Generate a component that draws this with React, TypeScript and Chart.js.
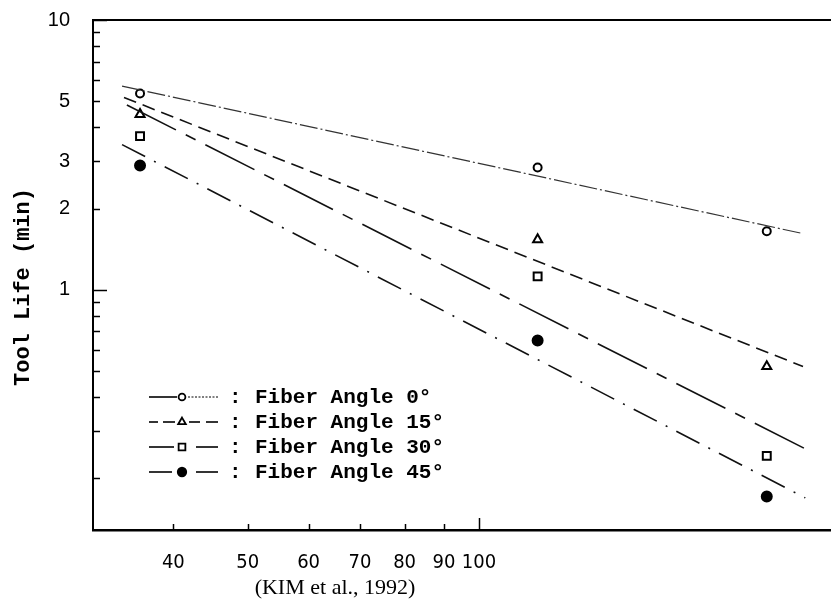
import React, { useEffect, useRef } from "react";
import { Chart, registerables } from "chart.js";
import { drawPoint } from "chart.js/helpers";

Chart.register(...registerables);

// ---- data ----
const SERIES_LABELS = ["Fiber Angle 0°", "Fiber Angle 15°", "Fiber Angle 30°", "Fiber Angle 45°"];
const CUTTING_SPEEDS = [36.2, 119.2, 236.9];
const LIFE_0 = [5.34, 2.84, 1.646];
const LIFE_15 = [4.47, 1.534, 0.519];
const LIFE_30 = [3.71, 1.12, 0.242];
const LIFE_45 = [2.89, 0.648, 0.171];

const FIT_START_SPEED = [34.3, 34.5, 34.8, 34.3];
const FIT_END_SPEED = [264.1, 264.1, 265.9, 265.9];
const FIT_0 = [5.69, 1.614];
const FIT_15 = [5.16, 0.519];
const FIT_30 = [4.84, 0.257];
const FIT_45 = [3.45, 0.169];

const X_TICKS = [40, 50, 60, 70, 80, 90, 100];
const Y_TICKS = [1, 2, 3, 5, 10];
const Y_MINOR_TICKS = [0.2, 0.3, 0.4, 0.5, 0.6, 0.7, 0.8, 0.9, 2, 3, 4, 5, 6, 7, 8, 9];
const Y_MAJOR_TICKS = [1, 10];
const X_RANGE = [31.44, 287.2];
const Y_RANGE = [0.1285, 10];

const Y_TITLE = "Tool Life (min)";
const CAPTION = "(KIM et al., 1992)";

const LIFE = [LIFE_0, LIFE_15, LIFE_30, LIFE_45];
const FITS = [FIT_0, FIT_15, FIT_30, FIT_45];

const DASHES = [[18, 3, 2, 3], [13, 7], [55, 11, 11, 11], [26, 10, 2, 10]];
const LINE_WIDTHS = [1.2, 1.6, 1.6, 1.6];
const LINE_COLORS = ["#333", "#111", "#111", "#111"];
const POINT_STYLES = ["circle", "triangle", "rect", "circle"];
const POINT_RADII = [4, 5.2, 5.6, 5];
const POINT_FILLS = ["#fff", "#fff", "#fff", "#000"];

// legend line samples: [from, to, dash] segments on each row
const LEGEND_SEGMENTS: [number, number, number[]][][] = [
  [[149, 177, []], [188, 218, [2, 1.5]]],
  [[149, 158, []], [163, 175, []], [189, 200, []], [206, 218, []]],
  [[149, 174, []], [196, 218, []]],
  [[149, 172, []], [196, 218, []]],
];

const MONO = '"Liberation Mono", "Courier New", "DejaVu Sans Mono", monospace';

const decorPlugin = {
  id: "decor",
  afterDraw(chart: any) {
    const { ctx, chartArea } = chart;
    const xs = chart.scales.x;
    const ys = chart.scales.y;
    ctx.save();
    ctx.strokeStyle = "#000";
    // top frame line
    ctx.lineWidth = 2;
    ctx.beginPath();
    ctx.moveTo(chartArea.left, chartArea.top);
    ctx.lineTo(chartArea.right, chartArea.top);
    ctx.stroke();
    // inward tick marks on y
    ctx.lineWidth = 1.5;
    Y_MINOR_TICKS.concat(Y_MAJOR_TICKS).forEach((v) => {
      const y = Math.round(ys.getPixelForValue(v)) + 0.5;
      const len = Y_MAJOR_TICKS.includes(v) ? 14 : 7;
      ctx.beginPath();
      ctx.moveTo(chartArea.left, y);
      ctx.lineTo(chartArea.left + len, y);
      ctx.stroke();
    });
    // inward tick marks on x
    X_TICKS.forEach((v) => {
      const x = Math.round(xs.getPixelForValue(v)) + 0.5;
      const len = v === 100 ? 12 : 6;
      ctx.beginPath();
      ctx.moveTo(x, chartArea.bottom);
      ctx.lineTo(x, chartArea.bottom - len);
      ctx.stroke();
    });
    // y axis title
    ctx.save();
    ctx.translate(23, 287);
    ctx.rotate(-Math.PI / 2);
    ctx.fillStyle = "#000";
    ctx.font = `bold 22px ${MONO}`;
    ctx.textAlign = "center";
    ctx.textBaseline = "middle";
    ctx.fillText(Y_TITLE, 0, 0);
    ctx.restore();
    // legend
    const xm = 182, xc = 235, xt = 255;
    SERIES_LABELS.forEach((label, i) => {
      const y = 397 + 25 * i;
      ctx.save();
      ctx.strokeStyle = "#000";
      LEGEND_SEGMENTS[i].forEach(([a, b, dash], k) => {
        ctx.lineWidth = i === 0 && k === 1 ? 1 : 1.6;
        ctx.setLineDash(dash);
        ctx.beginPath();
        ctx.moveTo(a, y);
        ctx.lineTo(b, y);
        ctx.stroke();
      });
      ctx.restore();
      ctx.save();
      ctx.setLineDash([]);
      ctx.lineWidth = 1.8;
      ctx.strokeStyle = "#000";
      ctx.fillStyle = POINT_FILLS[i];
      drawPoint(ctx, { pointStyle: POINT_STYLES[i], radius: POINT_RADII[i] * 0.85, rotation: 0, borderWidth: 1.8 }, xm, y);
      ctx.restore();
      ctx.fillStyle = "#000";
      ctx.font = `bold 21px ${MONO}`;
      ctx.textAlign = "left";
      ctx.textBaseline = "middle";
      ctx.fillText(":", xc - 6, y + 1);
      ctx.fillText(label, xt, y + 1);
    });
    ctx.restore();
  },
};

export default function App() {
  const canvasRef = useRef<HTMLCanvasElement | null>(null);

  useEffect(() => {
    const canvas = canvasRef.current;
    if (!canvas) return;
    const datasets: any[] = [];
    SERIES_LABELS.forEach((label, i) => {
      datasets.push({
        label: label + " fit",
        data: [
          { x: FIT_START_SPEED[i], y: FITS[i][0] },
          { x: FIT_END_SPEED[i], y: FITS[i][1] },
        ],
        showLine: true,
        borderColor: LINE_COLORS[i],
        borderWidth: LINE_WIDTHS[i],
        borderDash: DASHES[i],
        pointRadius: 0,
        fill: false,
      });
    });
    SERIES_LABELS.forEach((label, i) => {
      datasets.push({
        label,
        data: CUTTING_SPEEDS.map((s, k) => ({ x: s, y: LIFE[i][k] })),
        showLine: false,
        pointStyle: POINT_STYLES[i],
        pointRadius: POINT_RADII[i],
        pointBorderWidth: 2,
        pointBorderColor: "#000",
        pointBackgroundColor: POINT_FILLS[i],
      });
    });

    const chart = new Chart(canvas, {
      type: "scatter",
      data: { datasets },
      options: {
        animation: false,
        responsive: false,
        maintainAspectRatio: false,
        devicePixelRatio: 1,
        layout: { autoPadding: false, padding: { top: 20, right: 0, bottom: 0, left: 0 } },
        plugins: { legend: { display: false }, tooltip: { enabled: false } },
        scales: {
          x: {
            type: "logarithmic",
            min: X_RANGE[0],
            max: X_RANGE[1],
            grid: { display: false, drawTicks: false },
            border: { display: true, color: "#000", width: 2.5 },
            ticks: {
              autoSkip: false,
              maxRotation: 0,
              minRotation: 0,
              padding: 21,
              color: "#000",
              font: { family: '"Liberation Sans Narrow", "DejaVu Sans Condensed", "Liberation Sans", sans-serif', size: 20 },
              callback: (v: any) => String(v),
            },
            afterBuildTicks: (s: any) => {
              s.ticks = X_TICKS.map((v) => ({ value: v }));
            },
            afterFit: (s: any) => {
              s.height = 81;
              s.paddingLeft = 0;
              s.paddingRight = 0;
            },
          },
          y: {
            type: "logarithmic",
            min: Y_RANGE[0],
            max: Y_RANGE[1],
            grid: { display: false, drawTicks: false },
            border: { display: true, color: "#000", width: 2 },
            ticks: {
              autoSkip: false,
              padding: 23,
              color: "#000",
              font: { family: '"Liberation Sans", Arial, sans-serif', size: 20 },
              callback: (v: any) => String(v),
            },
            afterBuildTicks: (s: any) => {
              s.ticks = Y_TICKS.map((v) => ({ value: v }));
            },
            afterFit: (s: any) => {
              s.width = 93;
              s.paddingTop = 0;
              s.paddingBottom = 0;
            },
          },
        },
      },
      plugins: [decorPlugin],
    });
    return () => chart.destroy();
  }, []);

  return (
    <div style={{ position: "absolute", left: 0, top: 0, width: 831, height: 611, background: "#fff" }}>
      <canvas ref={canvasRef} width={831} height={611} style={{ display: "block" }} />
      <div
        style={{
          position: "absolute",
          left: 0,
          width: 670,
          top: 574,
          textAlign: "center",
          fontFamily: '"Liberation Serif", "Times New Roman", serif',
          fontSize: 22,
          lineHeight: "26px",
          color: "#000",
        }}
      >
        {CAPTION}
      </div>
    </div>
  );
}
